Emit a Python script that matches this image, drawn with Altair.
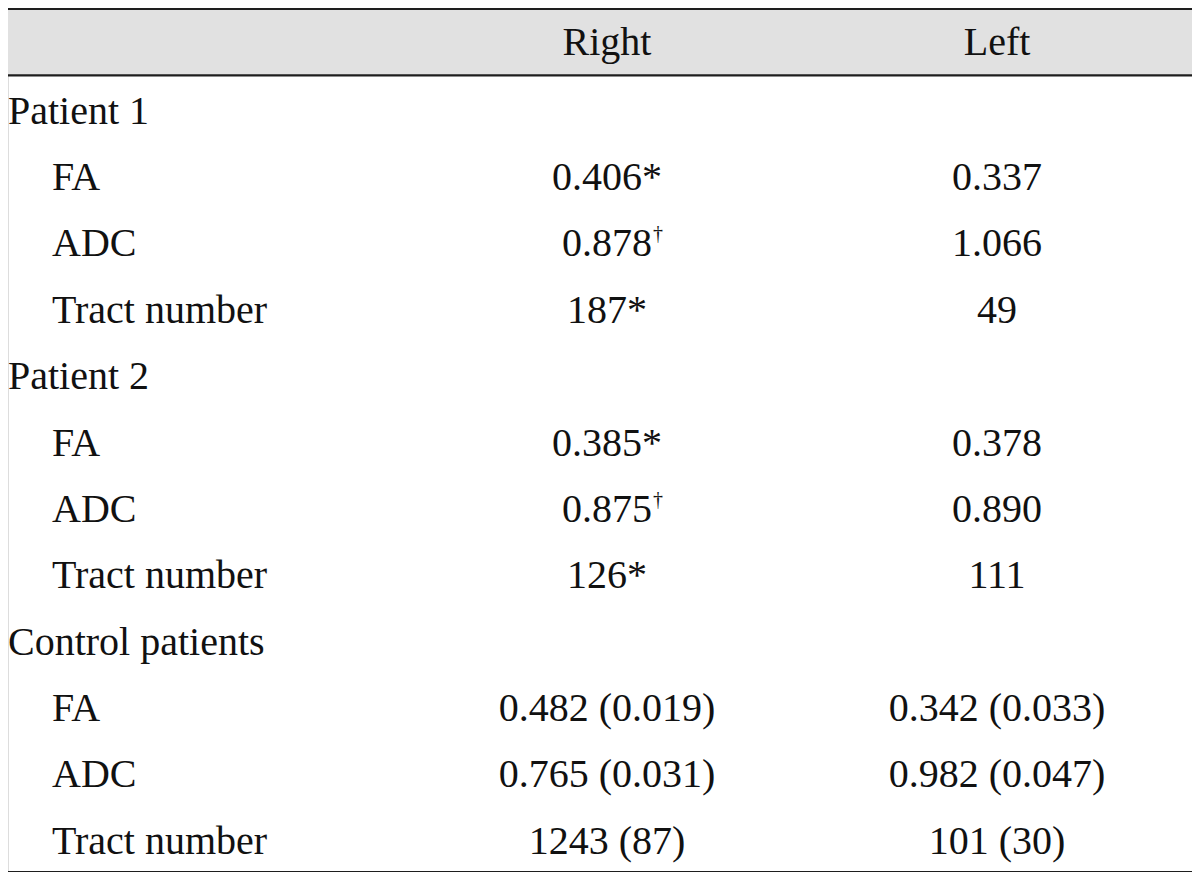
import altair as alt
import pandas as pd

# ---- data ----
row_labels = ["Patient 1", "FA", "ADC", "Tract number",
              "Patient 2", "FA", "ADC", "Tract number",
              "Control patients", "FA", "ADC", "Tract number"]
row_level = [0, 1, 1, 1, 0, 1, 1, 1, 0, 1, 1, 1]
right_values = ["", "0.406*", "0.878", "187*",
                "", "0.385*", "0.875", "126*",
                "", "0.482 (0.019)", "0.765 (0.031)", "1243 (87)"]
right_marks = ["", "", "\u2020", "", "", "", "\u2020", "", "", "", "", ""]
left_values = ["", "0.337", "1.066", "49",
               "", "0.378", "0.890", "111",
               "", "0.342 (0.033)", "0.982 (0.047)", "101 (30)"]
columns = ["Right", "Left"]

# ---- tables ----
row_ids = list(range(len(row_labels) + 1))  # 0 = header row
labels_df = pd.DataFrame({
    "row": list(range(1, len(row_labels) + 1)),
    "label": row_labels,
    "level": row_level,
})
cells = []
for i in range(len(row_labels)):
    cells.append({"row": i + 1, "col": "Right", "text": right_values[i], "sup": right_marks[i]})
    cells.append({"row": i + 1, "col": "Left", "text": left_values[i], "sup": ""})
cells_df = pd.DataFrame(cells)
header_df = pd.DataFrame({"row": [0, 0], "col": columns, "text": columns})

W, H = 1184, 863
FONT = "Liberation Serif"
FS = 40
DY = 3

yscale = alt.Scale(type="band", domain=row_ids, paddingInner=0, paddingOuter=0)
xscale = alt.Scale(type="band", domain=["label"] + columns, paddingInner=0,
                   paddingOuter=0.018, align=1)

band = alt.Chart(pd.DataFrame({"row": [0]})).mark_rect(color="#e1e1e1").encode(
    y=alt.Y("row:O", scale=yscale, axis=None),
    x=alt.value(0), x2=alt.value(W),
)

rules_top = alt.Chart(pd.DataFrame({"row": [0, 1]})).mark_rule(
    color="#1e1e1e", strokeWidth=2.2).encode(
    y=alt.Y("row:O", scale=yscale, axis=None, bandPosition=0),
    x=alt.value(0), x2=alt.value(W),
)
rule_bottom = alt.Chart(pd.DataFrame({"row": [row_ids[-1]]})).mark_rule(
    color="#1e1e1e", strokeWidth=2.2).encode(
    y=alt.Y("row:O", scale=yscale, axis=None, bandPosition=1),
    x=alt.value(0), x2=alt.value(W),
)

header = alt.Chart(header_df).mark_text(
    font=FONT, fontSize=FS, align="center", baseline="middle", color="#111111", dy=1
).encode(
    y=alt.Y("row:O", scale=yscale, axis=None),
    x=alt.X("col:N", scale=xscale, axis=None),
    text="text:N",
)

lab0 = alt.Chart(labels_df).transform_filter("datum.level == 0").mark_text(
    font=FONT, fontSize=FS, align="left", baseline="middle", color="#111111", dy=DY
).encode(
    y=alt.Y("row:O", scale=yscale, axis=None),
    x=alt.value(0),
    text="label:N",
)
lab1 = alt.Chart(labels_df).transform_filter("datum.level == 1").mark_text(
    font=FONT, fontSize=FS, align="left", baseline="middle", color="#111111", dx=44, dy=DY
).encode(
    y=alt.Y("row:O", scale=yscale, axis=None),
    x=alt.value(0),
    text="label:N",
)

vals = alt.Chart(cells_df).mark_text(
    font=FONT, fontSize=FS, align="center", baseline="middle", color="#111111", dy=DY
).encode(
    y=alt.Y("row:O", scale=yscale, axis=None),
    x=alt.X("col:N", scale=xscale, axis=None),
    text="text:N",
)

sups = alt.Chart(cells_df).transform_filter("datum.sup != ''").mark_text(
    font=FONT, fontSize=20, align="left", baseline="middle", color="#111111",
    dx=46, dy=DY - 10
).encode(
    y=alt.Y("row:O", scale=yscale, axis=None),
    x=alt.X("col:N", scale=xscale, axis=None),
    text="sup:N",
)

chart = alt.layer(band, rules_top, rule_bottom, header, lab0, lab1, vals, sups).properties(
    width=W, height=H,
    autosize=alt.AutoSizeParams(type="none"),
    padding={"left": 0, "top": 1, "right": 0, "bottom": 0},
).configure_view(stroke=None).configure(background="white")

chart.save("out.html", embed_options={"renderer": "svg", "actions": False})
